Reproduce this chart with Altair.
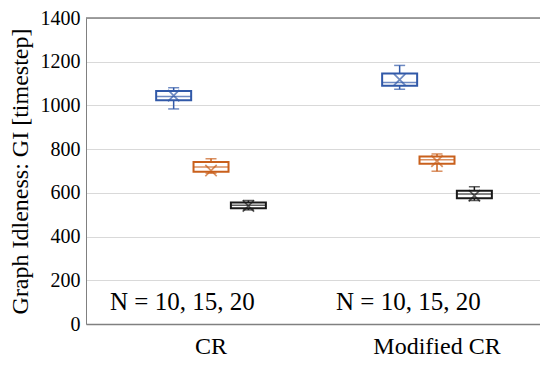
import altair as alt
import pandas as pd

groups = ["CR", "Modified CR"]
series = ["N = 10", "N = 15", "N = 20"]
colors = ["#3159A8", "#C9601C", "#1A1A1A"]

g_col = ["CR", "CR", "CR", "Modified CR", "Modified CR", "Modified CR"]
s_col = series * 2
mins = [984, 690, 522, 1074, 699, 565]
q1s = [1024, 696, 530, 1090, 733, 575]
meds = [1041, 718, 543, 1105, 751, 595]
q3s = [1066, 741, 556, 1146, 766, 610]
maxs = [1081, 756, 565, 1183, 778, 628]
means = [1045, 702, 540, 1118, 745, 587]

note_text = ["N = 10, 15, 20", "N = 10, 15, 20"]
note_y = [100, 100]
y_ticks = [0, 200, 400, 600, 800, 1000, 1200, 1400]

FONT = "Liberation Serif"
YTITLE = "Graph Idleness: GI [timestep]"

df = pd.DataFrame({"group": g_col, "series": s_col, "min": mins, "q1": q1s,
                   "median": meds, "q3": q3s, "max": maxs, "mean": means})
notes = pd.DataFrame({"group": groups, "t": note_text, "v": note_y})

xenc = alt.X("group:N",
             scale=alt.Scale(domain=groups, paddingInner=0.504, paddingOuter=0.2565, align=0.595),
             axis=alt.Axis(title=None, labelAngle=0, labelFont=FONT, labelFontSize=24,
                           labelColor="black", ticks=False, domainColor="#808080",
                           domainWidth=1.5, labelPadding=10))
xoff = alt.XOffset("series:N", scale=alt.Scale(domain=series, paddingInner=0, paddingOuter=0))
col = alt.Color("series:N", scale=alt.Scale(domain=series, range=colors), legend=None)


def Y(field):
    return alt.Y(field,
                 scale=alt.Scale(domain=[0, 1400], nice=False),
                 axis=alt.Axis(values=y_ticks, format="d", title=YTITLE, grid=True, gridColor="#d9d9d9",
                               gridWidth=1.2, ticks=False, domainColor="#808080",
                               labelFont=FONT, labelFontSize=20, labelColor="black",
                               labelPadding=6, titleFont=FONT, titleFontSize=24,
                               titleFontWeight="normal", titleColor="black", titlePadding=8))


base = alt.Chart(df)
whisker = base.mark_rule(strokeWidth=1.5).encode(x=xenc, xOffset=xoff, y=Y("min:Q"), y2="max:Q", color=col)
cap_lo = base.mark_tick(size=11, thickness=1.5).encode(x=xenc, xOffset=xoff, y=Y("min:Q"), color=col)
cap_hi = base.mark_tick(size=11, thickness=1.5).encode(x=xenc, xOffset=xoff, y=Y("max:Q"), color=col)
box = base.mark_bar(size=35, fill="white", strokeWidth=2).encode(
    x=xenc, xOffset=xoff, y=Y("q1:Q"), y2="q3:Q",
    stroke=alt.Stroke("series:N", scale=alt.Scale(domain=series, range=colors), legend=None))
median = base.mark_tick(size=35, thickness=1.5).encode(x=xenc, xOffset=xoff, y=Y("median:Q"), color=col)
mean = base.mark_point(shape="M-1,-1L1,1M-1,1L1,-1", size=130, filled=False, strokeWidth=1.7).encode(
    x=xenc, xOffset=xoff, y=Y("mean:Q"), color=col)

top_line = alt.Chart(pd.DataFrame({"v": [1400]})).mark_rule(color="#808080", strokeWidth=1.5).encode(y=Y("v:Q"))

note = alt.Chart(notes).mark_text(align="left", baseline="middle", dx=-101, font=FONT,
                                  fontSize=25, color="black").encode(x=xenc, y=Y("v:Q"), text="t:N")

chart = alt.layer(whisker, box, median, cap_lo, cap_hi, mean, top_line, note).properties(
    width=454, height=306,
    autosize=alt.AutoSizeParams(type="none"),
    padding={"left": 78, "top": 10, "right": 0, "bottom": 33},
).configure_view(stroke=None).configure(background="white").configure_axis(
    labelFont=FONT, titleFont=FONT)

chart.save("out.html", embed_options={"renderer": "svg", "actions": False})
